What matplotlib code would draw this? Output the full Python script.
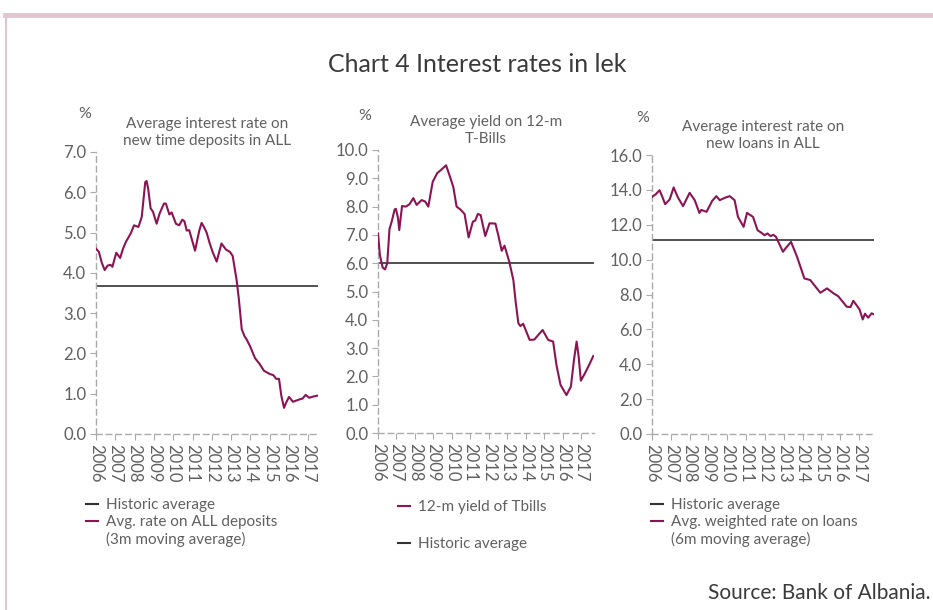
import matplotlib
matplotlib.use('Agg')
from matplotlib import pyplot as plt
from matplotlib.lines import Line2D

plt.rcParams['font.family'] = ['Lato', 'DejaVu Sans']

# time in decimal years, values in %
dep_t = [2006.00, 2006.15, 2006.30, 2006.45, 2006.60, 2006.75, 2006.85, 2007.05, 2007.25, 2007.40,
         2007.55, 2007.80, 2007.97, 2008.20, 2008.37, 2008.55, 2008.62, 2008.70, 2008.83, 2008.95,
         2009.14, 2009.30, 2009.52, 2009.62, 2009.80, 2009.92, 2010.14, 2010.31, 2010.47, 2010.58,
         2010.70, 2010.83, 2011.13, 2011.35, 2011.47, 2011.58, 2011.73, 2011.88, 2012.04, 2012.25,
         2012.50, 2012.73, 2012.94, 2013.08, 2013.29, 2013.40, 2013.55, 2013.70, 2013.80, 2013.98,
         2014.24, 2014.46, 2014.70, 2015.00, 2015.19, 2015.33, 2015.48, 2015.60, 2015.74, 2015.85,
         2016.00, 2016.20, 2016.55, 2016.70, 2016.86, 2017.05, 2017.25, 2017.45]
dep_v = [4.60, 4.52, 4.25, 4.07, 4.18, 4.20, 4.15, 4.50, 4.37, 4.60,
         4.77, 4.98, 5.18, 5.14, 5.39, 6.25, 6.28, 6.10, 5.60, 5.52,
         5.22, 5.48, 5.72, 5.72, 5.45, 5.50, 5.22, 5.18, 5.32, 5.28,
         5.05, 5.06, 4.55, 5.05, 5.24, 5.15, 5.00, 4.75, 4.52, 4.28,
         4.73, 4.58, 4.52, 4.42, 3.80, 3.35, 2.60, 2.42, 2.35, 2.18,
         1.88, 1.75, 1.57, 1.49, 1.46, 1.37, 1.37, 0.95, 0.65, 0.78,
         0.92, 0.80, 0.86, 0.88, 0.97, 0.90, 0.93, 0.95]
dep_avg = 3.68

tb_t = [2006.00, 2006.10, 2006.25, 2006.38, 2006.50, 2006.62, 2006.74, 2006.90, 2006.97, 2007.08,
        2007.15, 2007.30, 2007.50, 2007.70, 2007.91, 2008.09, 2008.36, 2008.55, 2008.72, 2008.96,
        2009.20, 2009.45, 2009.68, 2009.89, 2010.07, 2010.25, 2010.45, 2010.68, 2010.90, 2011.13,
        2011.25, 2011.40, 2011.55, 2011.80, 2012.03, 2012.35, 2012.50, 2012.69, 2012.84, 2013.10,
        2013.32, 2013.45, 2013.59, 2013.70, 2013.85, 2014.20, 2014.45, 2014.90, 2015.20, 2015.47,
        2015.65, 2015.87, 2016.19, 2016.43, 2016.60, 2016.74, 2016.85, 2016.97, 2017.19, 2017.45,
        2017.64]
tb_v = [7.05, 6.30, 5.85, 5.78, 6.00, 7.20, 7.47, 7.90, 7.92, 7.60,
        7.17, 8.02, 8.00, 8.08, 8.30, 8.06, 8.23, 8.18, 8.00, 8.88,
        9.18, 9.32, 9.46, 9.06, 8.70, 8.00, 7.90, 7.74, 6.91, 7.47,
        7.50, 7.74, 7.70, 6.96, 7.41, 7.40, 7.00, 6.44, 6.62, 6.05,
        5.40, 4.60, 3.88, 3.78, 3.86, 3.29, 3.30, 3.64, 3.29, 3.23,
        2.40, 1.70, 1.34, 1.64, 2.60, 3.23, 2.70, 1.85, 2.11, 2.45,
        2.72]
tb_avg = 6.0

ln_t = [2006.00, 2006.20, 2006.40, 2006.55, 2006.70, 2006.94, 2007.15, 2007.38, 2007.65, 2008.00,
        2008.27, 2008.52, 2008.62, 2008.90, 2009.20, 2009.42, 2009.60, 2009.90, 2010.13, 2010.39,
        2010.57, 2010.87, 2011.05, 2011.37, 2011.61, 2011.80, 2011.98, 2012.14, 2012.30, 2012.45,
        2012.59, 2012.96, 2013.14, 2013.39, 2013.71, 2014.10, 2014.41, 2014.95, 2015.30, 2015.66,
        2015.90, 2016.35, 2016.55, 2016.70, 2017.03, 2017.20, 2017.32, 2017.49, 2017.67, 2017.76]
ln_v = [13.60, 13.75, 13.98, 13.60, 13.18, 13.45, 14.14, 13.56, 13.07, 13.83,
        13.41, 12.68, 12.85, 12.74, 13.37, 13.64, 13.41, 13.56, 13.64, 13.41,
        12.45, 11.88, 12.68, 12.45, 11.69, 11.55, 11.40, 11.50, 11.35, 11.42,
        11.31, 10.45, 10.70, 11.02, 10.16, 8.92, 8.83, 8.10, 8.35, 8.06,
        7.90, 7.30, 7.28, 7.64, 7.15, 6.57, 6.90, 6.67, 6.92, 6.88]
ln_avg = 11.1

years = list(range(2006, 2018))

SERIES = '#8c1454'
AVG = '#333333'
GREY = '#606060'
SPINE = '#aaaaaa'

W, H = 933, 610
fig = plt.figure(figsize=(W / 100, H / 100), dpi=100)


def px(x0, y_top, x1, y_bot):
    return [x0 / W, 1 - y_bot / H, (x1 - x0) / W, (y_bot - y_top) / H]


def panel(rect, t, v, avg, xmax, ymax, ystep, title):
    ax = fig.add_axes(rect)
    ax.plot(t, v, color=SERIES, lw=1.5, zorder=3)
    ax.plot([2006, xmax], [avg, avg], color=AVG, lw=1.2, zorder=2)
    ax.set_xlim(2006, xmax)
    ax.set_ylim(0, ymax)
    n = int(ymax / ystep) + 1
    ax.set_yticks([i * ystep for i in range(n)])
    ax.set_yticklabels(['%.1f' % (i * ystep) for i in range(n)])
    ax.set_xticks(years)
    ax.set_xticklabels([str(y) for y in years], rotation=-90)
    for s in ['top', 'right']:
        ax.spines[s].set_visible(False)
    for s in ['left', 'bottom']:
        ax.spines[s].set_color(SPINE)
        ax.spines[s].set_linestyle((0, (4, 3)))
        ax.spines[s].set_linewidth(1)
    ax.tick_params(axis='both', colors=SPINE, labelcolor=GREY, labelsize=12, length=4, width=0.8)
    ax.tick_params(axis='x', labelsize=12, pad=3)
    ax.tick_params(axis='y', pad=3)
    ax.set_title(title, fontsize=11, color=GREY, pad=5, linespacing=1.3)
    return ax


ax1 = panel(px(96, 152, 318, 434), dep_t, dep_v, dep_avg, 2017.5, 7, 1,
            'Average interest rate on\nnew time deposits in ALL')
ax2 = panel(px(378, 150, 594, 433), tb_t, tb_v, tb_avg, 2017.68, 10, 1,
            'Average yield on 12-m\nT-Bills')
ax3 = panel(px(652, 155, 874, 434), ln_t, ln_v, ln_avg, 2017.8, 16, 2,
            'Average interest rate on\nnew loans in ALL')

for x, y in [(85, 114), (365, 116), (643, 118)]:
    fig.text(x / W, 1 - y / H, '%', fontsize=11.5, color=GREY, ha='center', va='center')

fig.text(477 / W, 1 - 65 / H, 'Chart 4 Interest rates in lek', fontsize=18, color='#3a3a3a',
         ha='center', va='center')
fig.text(930 / W, 1 - 593 / H, 'Source: Bank of Albania.', fontsize=15, color='#3a3a3a',
         ha='right', va='center')


def h(c):
    return Line2D([], [], color=c, lw=1.5)


blank = Line2D([], [], color='none')
leg_kw = dict(loc='upper left', frameon=False, fontsize=11, borderpad=0, borderaxespad=0,
              handlelength=0.8, handletextpad=0.5, labelcolor=GREY)
fig.legend([h(AVG), h(SERIES), blank],
           ['Historic average', 'Avg. rate on ALL deposits', '(3m moving average)'],
           bbox_to_anchor=(86 / W, 1 - 498 / H), labelspacing=0.2, **leg_kw)
fig.legend([h(SERIES), h(AVG)], ['12-m yield of Tbills', 'Historic average'],
           bbox_to_anchor=(398 / W, 1 - 500 / H), labelspacing=1.5, **leg_kw)
fig.legend([h(AVG), h(SERIES), blank],
           ['Historic average', 'Avg. weighted rate on loans', '(6m moving average)'],
           bbox_to_anchor=(651 / W, 1 - 498 / H), labelspacing=0.2, **leg_kw)

# pink frame
pink = '#e3c4d3'
fig.add_artist(Line2D([5 / W, 1], [1 - 15 / H, 1 - 15 / H], color=pink, lw=3.5))
fig.add_artist(Line2D([6 / W, 6 / W], [0, 1 - 15 / H], color=pink, lw=1.5))

fig.savefig('out.png', dpi=100)
